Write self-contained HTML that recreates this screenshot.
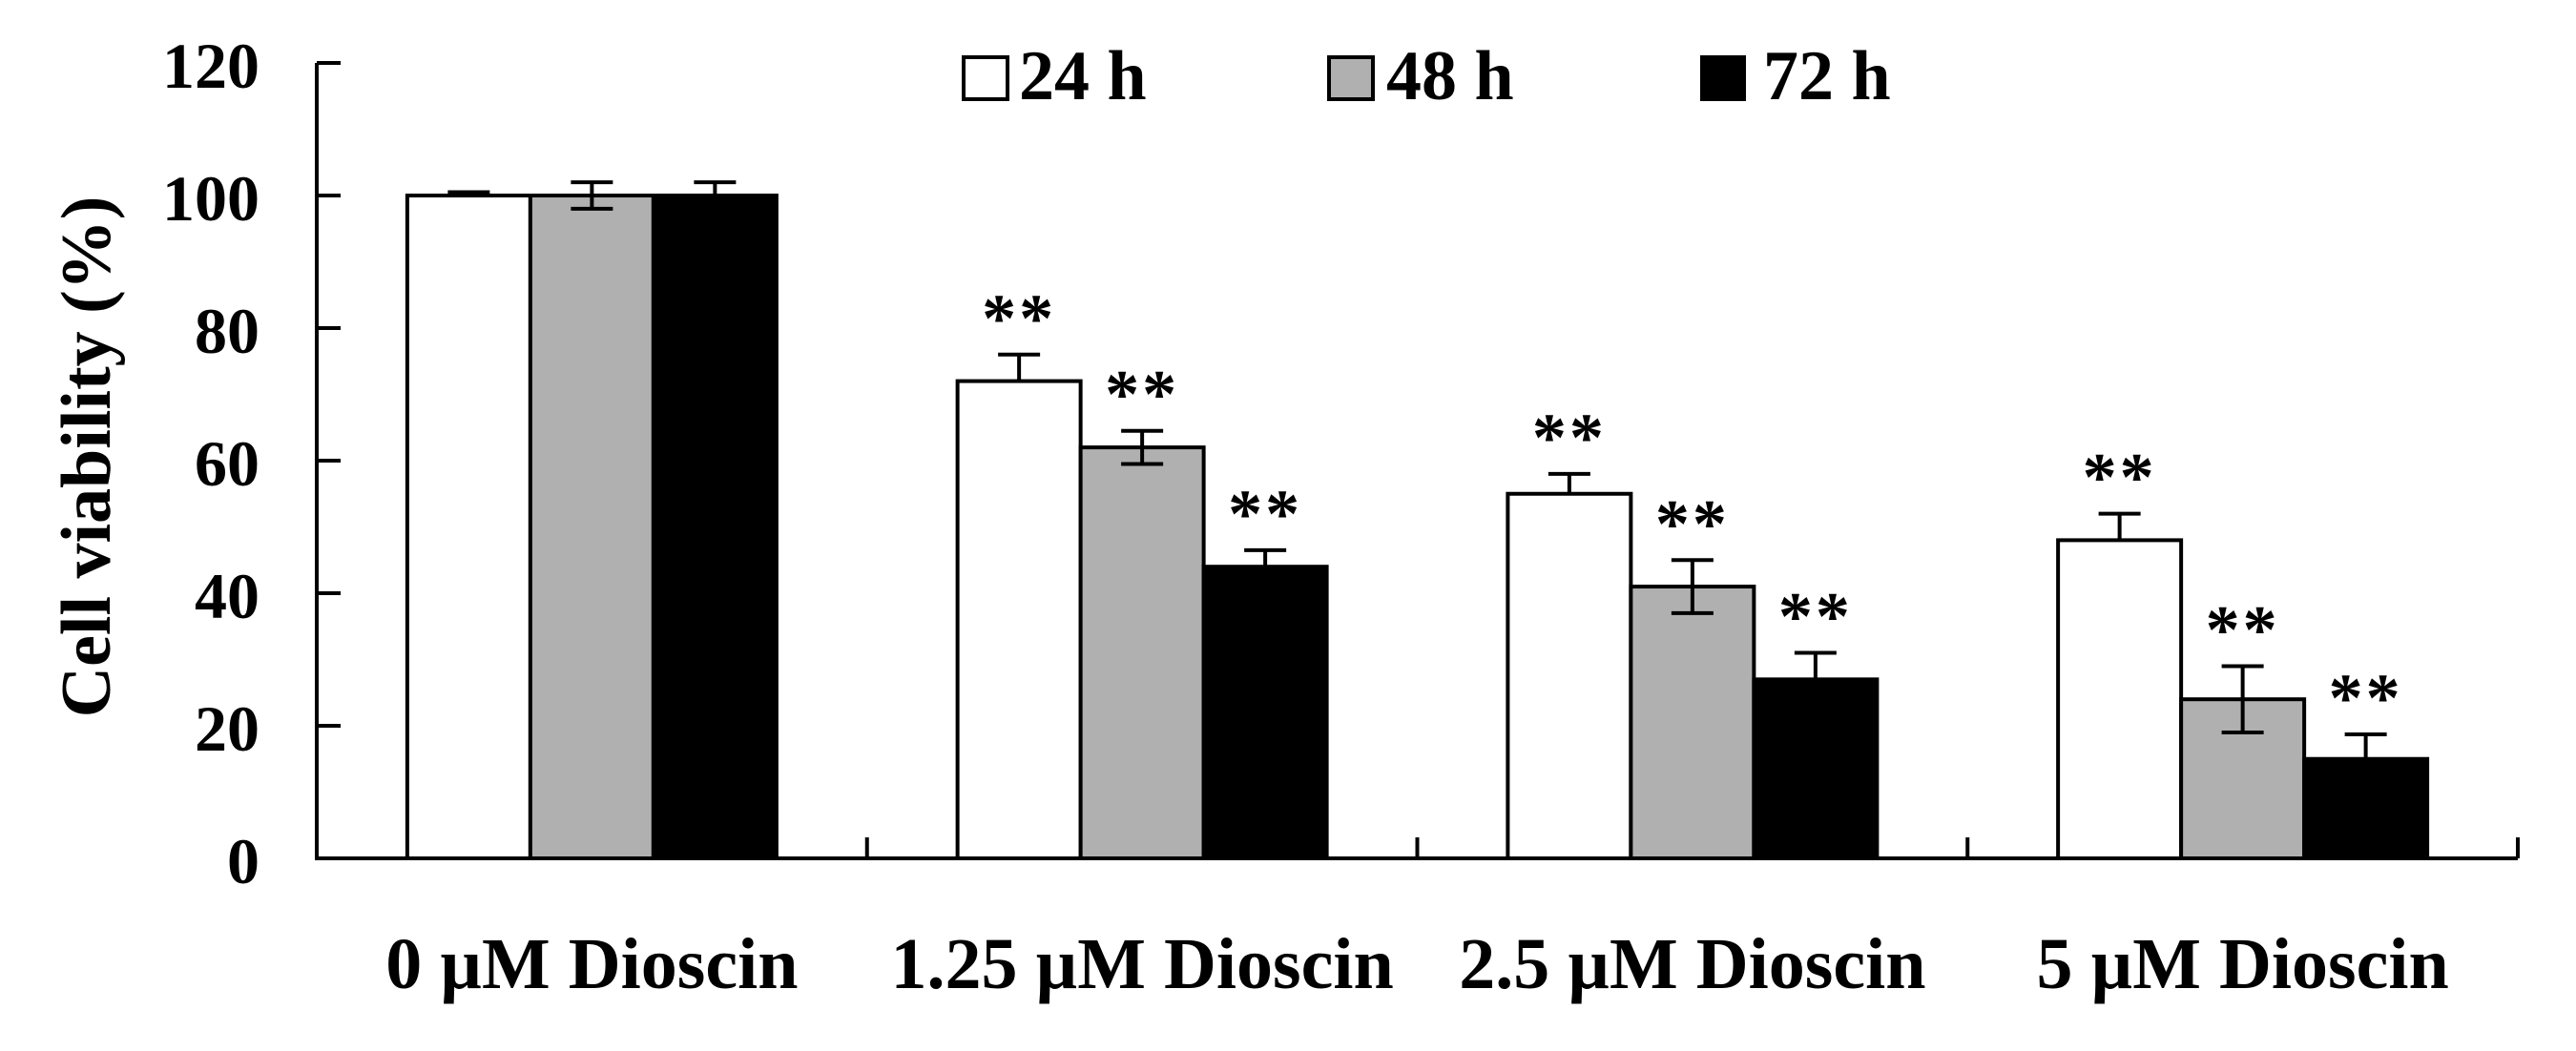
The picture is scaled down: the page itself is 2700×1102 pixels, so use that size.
<!DOCTYPE html>
<html><head><meta charset="utf-8"><style>
html,body{margin:0;padding:0;background:#fff;}
svg text{font-family:"Liberation Serif",serif;font-weight:bold;fill:#000;}
</style></head><body>
<svg id="chart" width="2700" height="1097" xmlns="http://www.w3.org/2000/svg">
<g id="axes"></g>
<g id="bars"></g>
<g id="legend">
  <rect x="1010" y="60" width="46" height="44" fill="#fff" stroke="#000" stroke-width="4"/>
  <text x="1068" y="104" font-size="74">24 h</text>
  <rect x="1393" y="60" width="46" height="44" fill="#b0b0b0" stroke="#000" stroke-width="4"/>
  <text x="1453" y="104" font-size="74">48 h</text>
  <rect x="1784" y="60" width="44" height="44" fill="#000" stroke="#000" stroke-width="4"/>
  <text x="1848" y="104" font-size="74">72 h</text>
</g>
<text transform="translate(115,479) rotate(-90)" text-anchor="middle" font-size="74">Cell viability (%)</text>
</svg>
<script>
const categories = ["0 µM Dioscin","1.25 µM Dioscin","2.5 µM Dioscin","5 µM Dioscin"];
const seriesNames = ["24 h","48 h","72 h"];
const values24 = [100,72,55,48];
const values48 = [100,62,41,24];
const values72 = [100,44,27,15];
const err24 = [0.5,4,3,4];
const err48 = [2,2.5,4,5];
const err72 = [2,2.5,4,3.7];
const sig24 = [false,true,true,true];
const sig48 = [false,true,true,true];
const sig72 = [false,true,true,true];
const yTicks = [0,20,40,60,80,100,120];

const NS="http://www.w3.org/2000/svg";
const X0=332,X1=2639,Y0=900,Y120=66;
const yScale=v=>Y0-(v/120)*(Y0-Y120);
const groupW=(X1-X0)/categories.length;
const barW=129;
const fills=["#fff","#b0b0b0","#000"];
const vals=[values24,values48,values72];
const errs=[err24,err48,err72];
const sigs=[sig24,sig48,sig72];
function mk(tag,attrs,parent){const e=document.createElementNS(NS,tag);for(const k in attrs)e.setAttribute(k,attrs[k]);parent.appendChild(e);return e;}
const axes=document.getElementById('axes');
const bars=document.getElementById('bars');
let l=mk('line',{x1:X0,y1:Y120,x2:X0,y2:Y0+2,stroke:'#000','stroke-width':4},axes);


l=mk('line',{x1:X0-2,y1:Y0,x2:X1,y2:Y0,stroke:'#000','stroke-width':4},axes);


yTicks.forEach(t=>{
  const y=yScale(t);
  const tk=mk('line',{x1:X0,y1:y,x2:X0+25,y2:y,stroke:'#000','stroke-width':4},axes);
  
  
  const tx=mk('text',{x:272,y:y+26,'text-anchor':'end','font-size':68},axes);
  
  
  tx.textContent=t;
});
for(let i=1;i<=categories.length;i++){
  const x=X0+i*groupW;
  const tk=mk('line',{x1:x,y1:Y0,x2:x,y2:Y0-22,stroke:'#000','stroke-width':4},axes);
  
  
}
categories.forEach((c,g)=>{
  const cx=X0+(g+0.5)*groupW;
  const tx=mk('text',{x:cx,y:1036,'text-anchor':'middle','font-size':76},axes);
  
  
  tx.textContent=c;
  for(let s=0;s<3;s++){
    const v=vals[s][g],e=errs[s][g];
    const bx=cx-1.5*barW+s*barW;
    const yt=yScale(v);
    const r=mk('rect',{x:bx,y:yt,width:barW,height:Y0-yt,fill:fills[s],stroke:'#000','stroke-width':4},bars);
    
    
    const mx=bx+barW/2,ye=yScale(v+e),yb=yScale(v-e);
    const eb=mk('path',{d:`M${mx-22},${ye}H${mx+22}M${mx},${ye}V${s===1?yb:yt}`+(s===1?`M${mx-22},${yb}H${mx+22}`:''),stroke:'#000','stroke-width':4,fill:'none'},bars);
    
    
    if(sigs[s][g]){
      const st=mk('text',{x:mx,y:ye-14,'text-anchor':'middle','font-size':72,'letter-spacing':'3'},bars);
      
      
      st.textContent='**';
    }
  }
});
</script>
</body></html>
